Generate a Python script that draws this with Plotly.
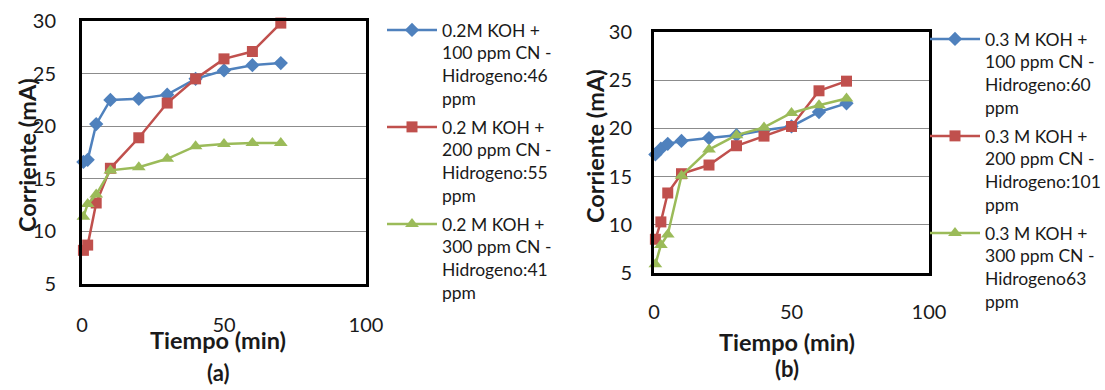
import plotly.graph_objects as go

W, H = 1105, 390

# ---- data ----
time_a = [0.5, 2, 5, 10, 20, 30, 40, 50, 60, 70]
a_100 = [16.6, 16.8, 20.2, 22.5, 22.6, 23.0, 24.5, 25.3, 25.8, 26.0]
a_200 = [8.2, 8.7, 12.7, 16.0, 18.9, 22.2, 24.5, 26.4, 27.1, 29.8]
a_300 = [11.4, 12.6, 13.5, 15.8, 16.1, 16.9, 18.1, 18.3, 18.4, 18.4]

time_b = [0.5, 2.5, 5, 10, 20, 30, 40, 50, 60, 70]
b_100 = [17.3, 17.9, 18.4, 18.7, 19.0, 19.3, 19.8, 20.2, 21.7, 22.6]
b_200 = [8.5, 10.3, 13.3, 15.3, 16.2, 18.2, 19.2, 20.2, 23.9, 24.9]
b_300 = [5.9, 7.9, 9.0, 15.1, 17.8, 19.3, 20.1, 21.6, 22.4, 23.1]

names_a = [
    "0.2M KOH +<br>100 ppm CN -<br>Hidrogeno:46<br>ppm",
    "0.2 M KOH +<br>200 ppm CN -<br>Hidrogeno:55<br>ppm",
    "0.2 M KOH +<br>300 ppm CN -<br>Hidrogeno:41<br>ppm",
]
names_b = [
    "0.3 M KOH +<br>100 ppm CN -<br>Hidrogeno:60<br>ppm",
    "0.3 M KOH +<br>200 ppm CN -<br>Hidrogeno:101<br>ppm",
    "0.3 M KOH +<br>300 ppm CN -<br>Hidrogeno63<br>ppm",
]
x_ticks = [0, 50, 100]
y_ticks = [5, 10, 15, 20, 25, 30]

colors = ["#4F81BD", "#C0504D", "#9BBB59"]
symbols = ["diamond", "square", "triangle-up"]
msizes = [11, 11, 12]

FONT = "Lato"
TXT = "#1a1a1a"

fig = go.Figure()

def add_series(xs, ys_list, names, xa, ya, legend):
    for i, (ys, nm) in enumerate(zip(ys_list, names)):
        fig.add_trace(go.Scatter(
            x=xs, y=ys, name=nm, mode="lines+markers",
            xaxis=xa, yaxis=ya, legend=legend,
            line=dict(color=colors[i], width=2.5),
            marker=dict(symbol=symbols[i], size=msizes[i], color=colors[i]),
            legendgroup=legend + str(i),
            cliponaxis=False,
        ))

add_series(time_a, [a_100, a_200, a_300], names_a, "x", "y", "legend")
add_series(time_b, [b_100, b_200, b_300], names_b, "x2", "y2", "legend2")

def px_x(p):
    return p / W

def px_y(p):
    return 1 - p / H

def xaxis(d0, d1, anchor, ticklen):
    return dict(domain=[px_x(d0), px_x(d1)], range=[0, 100], anchor=anchor,
                tickvals=x_ticks, showgrid=False, zeroline=False,
                showline=True, mirror=True, linecolor="black", linewidth=3,
                ticks="outside", ticklen=ticklen, tickcolor="rgba(0,0,0,0)",
                tickfont=dict(family=FONT, size=20, color=TXT))

def yaxis(d0, d1, anchor, ticklen):
    return dict(domain=[px_y(d1), px_y(d0)], range=[5, 30], anchor=anchor,
                tickvals=y_ticks, showgrid=True, gridcolor="#8c8c8c", gridwidth=1,
                zeroline=False,
                showline=True, mirror=True, linecolor="black", linewidth=3,
                ticks="outside", ticklen=ticklen, tickcolor="rgba(0,0,0,0)",
                tickfont=dict(family=FONT, size=20, color=TXT))

legend_common = dict(
    font=dict(family=FONT, size=17.5, color=TXT),
    bgcolor="rgba(0,0,0,0)", borderwidth=0,
    xanchor="left", yanchor="top", valign="top",
    itemwidth=50, traceorder="grouped", tracegroupgap=3,
)

fig.update_layout(
    width=W, height=H,
    margin=dict(l=0, r=0, t=0, b=0, autoexpand=False),
    paper_bgcolor="white", plot_bgcolor="white",
    xaxis=xaxis(82, 366, "y", 21),
    yaxis=yaxis(21, 284, "x", 19),
    xaxis2=xaxis(654, 929, "y2", 19),
    yaxis2=yaxis(32, 273, "x2", 15),
    legend=dict(x=px_x(382), y=px_y(12), **legend_common),
    legend2=dict(x=px_x(925), y=px_y(21), **legend_common),
    showlegend=True,
)

def ann(text, x, y, size, angle=0, bold=True):
    fig.add_annotation(
        text=f"<b>{text}</b>" if bold else text,
        xref="paper", yref="paper", x=px_x(x), y=px_y(y),
        xanchor="center", yanchor="middle", showarrow=False,
        textangle=angle, font=dict(family=FONT, size=size, color=TXT),
    )

ann("Corriente (mA)", 27, 155, 23.5, -90)
ann("Corriente (mA)", 595, 146, 23.5, -90)
ann("Tiempo (min)", 218, 340, 23.5)
ann("Tiempo (min)", 787, 342, 23.5)
ann("(a)", 218, 372, 22)
ann("(b)", 787, 368, 22)

fig.write_html("out.html")
